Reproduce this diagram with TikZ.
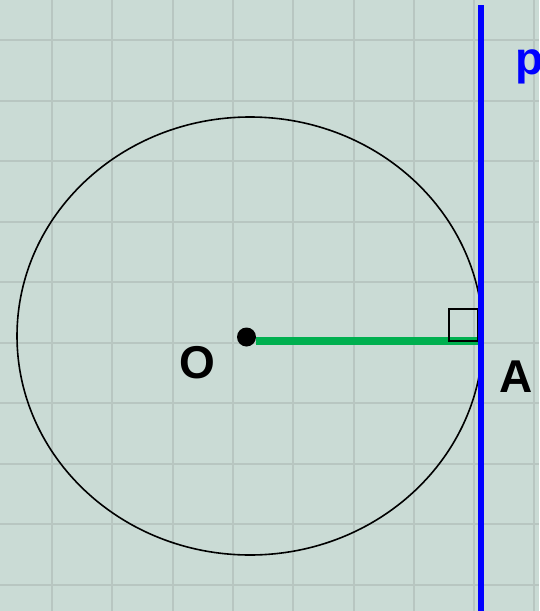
\documentclass[tikz,border=0pt]{standalone}
\usepackage{fontspec}
\setmainfont{Liberation Sans}
\usepackage{tikz}

\definecolor{bgcol}{HTML}{CADBD5}
\definecolor{gridcol}{HTML}{B8C6C1}
\definecolor{radcol}{HTML}{00B050}
\tikzset{
    lbl/.style={font=\fontsize{46}{46}\selectfont\bfseries, inner sep=0pt},
    dot/.style={circle, fill=black, inner sep=0pt, minimum size=19pt}
}

\begin{document}
\begin{tikzpicture}[x=1pt,y=-1pt]
        \fill[bgcol] (0,0) rectangle (539,611);
        \useasboundingbox (0,0) rectangle (539,611);
        \foreach \k in {0,...,8} \draw[gridcol, line width=2pt] ({52+60.3*\k},0)--({52+60.3*\k},611);
        \foreach \k in {0,...,9} \draw[gridcol, line width=2pt] (0,{40+60.56*\k})--(539,{40+60.56*\k});
        \draw[line width=1.6pt] (250,336) ellipse [x radius=233, y radius=219];
        \node[dot] (O) at (246.5,337) {};
        \coordinate (A) at (478,341);
        \draw[radcol, line width=8pt] (O.east |- A) -- (A);
        \draw[line width=1.3pt] ([yshift=32]A) rectangle ([xshift=-29]A);
        \coordinate (ptop) at (480.7,5); \coordinate (pbot) at (480.7,611);
        \draw[blue, line width=6pt] (ptop) -- (pbot);
        \node[lbl] (labO) at (197.5,363) {O};
        \node[lbl] (labA) at (516,377) {A};
        \node[lbl, blue, anchor=base west] (labp) at (515,74) {p};
    \end{tikzpicture}
\end{document}
